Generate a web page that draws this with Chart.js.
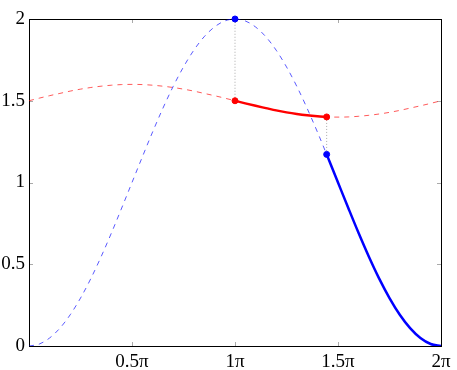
<!DOCTYPE html>
<html><head><meta charset="utf-8">
<script src="https://cdn.jsdelivr.net/npm/chart.js@4/dist/chart.umd.min.js"></script>
<style>html,body{margin:0;padding:0;background:#fff}</style>
</head><body>
<canvas id="c" width="457" height="370"></canvas>
<script>
// x in units of pi
const xGrid = [0,0.05,0.1,0.15,0.2,0.25,0.3,0.35,0.4,0.45,0.5,0.55,0.6,0.65,0.7,0.75,0.8,0.85,0.9,0.95,1,1.05,1.1,1.15,1.2,1.25,1.3,1.35,1.4,1.45,1.5,1.55,1.6,1.65,1.7,1.75,1.8,1.85,1.9,1.95,2];
const blueDashed = [0,0.012,0.049,0.109,0.191,0.293,0.412,0.546,0.691,0.844,1,1.156,1.309,1.454,1.588,1.707,1.809,1.891,1.951,1.988,2,1.988,1.951,1.891,1.809,1.707,1.588,1.454,1.309,1.156,1,0.844,0.691,0.546,0.412,0.293,0.191,0.109,0.049,0.012,0];
const redDashed = [1.5,1.516,1.531,1.545,1.559,1.571,1.581,1.589,1.595,1.599,1.6,1.599,1.595,1.589,1.581,1.571,1.559,1.545,1.531,1.516,1.5,1.484,1.469,1.455,1.441,1.429,1.419,1.411,1.405,1.401,1.4,1.401,1.405,1.411,1.419,1.429,1.441,1.455,1.469,1.484,1.5];
const redSolidX = [1,1.05,1.1,1.15,1.2,1.25,1.3,1.35,1.4,1.445];
const redSolidY = [1.5,1.484,1.469,1.455,1.441,1.429,1.419,1.411,1.405,1.401];
const blueSolidX = [1.445,1.5,1.55,1.6,1.65,1.7,1.75,1.8,1.85,1.9,1.95,2];
const blueSolidY = [1.172,1,0.844,0.691,0.546,0.412,0.293,0.191,0.109,0.049,0.012,0];
const blueMarkX = [1,1.445];
const blueMarkY = [2,1.172];
const redMarkX = [1,1.445];
const redMarkY = [1.5,1.401];
const xTicks = [0.5,1,1.5,2];
const xTickLabels = ['0.5π','1π','1.5π','2π'];
const yTicks = [0,0.5,1,1.5,2];
const yTickLabels = ['0','0.5','1','1.5','2'];

const pts = (xs, ys) => xs.map((x,i)=>({x:x,y:ys[i]}));

const frame = {
  id:'frame',
  beforeDatasetsDraw(chart){
    const {ctx, chartArea:a, scales} = chart;
    ctx.save();
    ctx.strokeStyle = '#aaaaaa'; ctx.lineWidth = 1;
    ctx.beginPath();
    xTicks.forEach(v=>{
      const px = Math.round(scales.x.getPixelForValue(v))+0.5;
      ctx.moveTo(px,a.bottom); ctx.lineTo(px,a.bottom-4);
      ctx.moveTo(px,a.top); ctx.lineTo(px,a.top+4);
    });
    yTicks.forEach(v=>{
      const py = Math.round(scales.y.getPixelForValue(v))+0.5;
      ctx.moveTo(a.left,py); ctx.lineTo(a.left+4,py);
      ctx.moveTo(a.right,py); ctx.lineTo(a.right-4,py);
    });
    ctx.stroke();
    ctx.strokeStyle = '#000'; ctx.lineWidth = 1;
    ctx.strokeRect(Math.round(a.left)+0.5, Math.round(a.top)+0.5, Math.round(a.right-a.left), Math.round(a.bottom-a.top));
    ctx.restore();
  }
};

new Chart(document.getElementById('c'), {
  type:'scatter',
  data:{datasets:[
    {data:pts(blueMarkX,blueMarkY), backgroundColor:'#0000ff', borderColor:'#0000ff', pointRadius:3, showLine:false, order:0, clip:false},
    {data:pts(redMarkX,redMarkY), backgroundColor:'#ff0000', borderColor:'#ff0000', pointRadius:3, showLine:false, order:0, clip:false},
    {data:pts(redSolidX,redSolidY), showLine:true, borderColor:'#ff0000', borderWidth:2.5, pointRadius:0, cubicInterpolationMode:'monotone', order:1},
    {data:pts(blueSolidX,blueSolidY), showLine:true, borderColor:'#0000ff', borderWidth:2.5, pointRadius:0, cubicInterpolationMode:'monotone', order:1},
    {data:[{x:blueMarkX[0],y:redMarkY[0]},{x:blueMarkX[0],y:blueMarkY[0]}], showLine:true, borderColor:'#aaaaaa', borderWidth:1, borderDash:[1,2], pointRadius:0, order:2},
    {data:[{x:blueMarkX[1],y:redMarkY[1]},{x:blueMarkX[1],y:blueMarkY[1]}], showLine:true, borderColor:'#aaaaaa', borderWidth:1, borderDash:[1,2], pointRadius:0, order:2},
    {data:pts(xGrid,blueDashed), showLine:true, borderColor:'rgba(0,0,255,0.65)', borderWidth:1, borderDash:[5,5], pointRadius:0, cubicInterpolationMode:'monotone', order:3},
    {data:pts(xGrid,redDashed), showLine:true, borderColor:'rgba(255,0,0,0.65)', borderWidth:1, borderDash:[5,5], pointRadius:0, cubicInterpolationMode:'monotone', order:3}
  ]},
  options:{
    responsive:false, animation:false,
    layout:{padding:{top:19,right:16,left:0,bottom:0}},
    plugins:{legend:{display:false}, tooltip:{enabled:false}},
    scales:{
      x:{type:'linear', min:0, max:2,
        grid:{display:false, drawTicks:false}, border:{display:false},
        afterBuildTicks:s=>{s.ticks = xTicks.map(v=>({value:v}));},
        afterFit:s=>{s.height = 24;},
        ticks:{color:'#000', padding:5, maxRotation:0, autoSkip:false,
          font:{family:'Liberation Serif', size:19},
          callback:(v)=>{const i=xTicks.indexOf(v); return i>=0?xTickLabels[i]:'';}}
      },
      y:{type:'linear', min:0, max:2,
        grid:{display:false, drawTicks:false}, border:{display:false},
        afterBuildTicks:s=>{s.ticks = yTicks.map(v=>({value:v}));},
        afterFit:s=>{s.width = 29;},
        ticks:{color:'#000', padding:4, autoSkip:false,
          font:{family:'Liberation Serif', size:19},
          callback:(v)=>{const i=yTicks.indexOf(v); return i>=0?yTickLabels[i]:'';}}
      }
    }
  },
  plugins:[frame]
});
</script>
</body></html>
